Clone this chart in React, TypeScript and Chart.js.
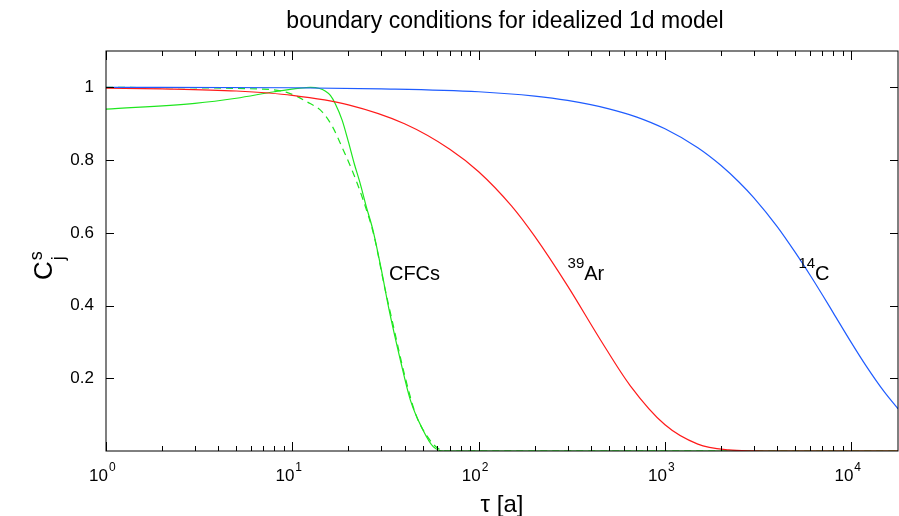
import Chart from "chart.js/auto"
import { useEffect, useRef } from "react"

// values (tau in years, concentration)
const c14Tau = [1, 10, 30, 100, 200, 300, 500, 700, 1000, 1500, 2000, 2500, 3000, 4000, 5000, 6000, 7000, 8000, 10000, 12000, 15000, 17800]
const c14Val = [1.0, 0.999, 0.996, 0.988, 0.976, 0.964, 0.941, 0.919, 0.886, 0.834, 0.785, 0.739, 0.696, 0.617, 0.546, 0.484, 0.429, 0.38, 0.298, 0.234, 0.163, 0.116]

const arTau = [1, 2, 5, 10, 20, 40, 70, 100, 150, 200, 300, 450, 650, 1000, 1500, 2200, 3000, 4000, 17800]
const arVal = [0.998, 0.996, 0.99, 0.978, 0.952, 0.9, 0.83, 0.768, 0.674, 0.59, 0.454, 0.306, 0.18, 0.072, 0.019, 0.003, 0.0005, 0, 0]

const cfcTau = [1, 3, 5, 8, 11, 12.5, 14, 15, 16, 17, 18.5, 20, 21.5, 23, 25, 27, 30, 33, 38, 43, 50, 57, 65, 17800]
const cfcVal = [0.94, 0.956, 0.97, 0.988, 0.998, 1.0, 0.997, 0.99, 0.978, 0.955, 0.91, 0.85, 0.79, 0.74, 0.67, 0.61, 0.5, 0.39, 0.25, 0.14, 0.06, 0.012, 0, 0]

const cfcDashTau = [1, 7, 9.5, 12, 14.5, 16.5, 18.5, 21, 24, 27.5, 31, 35, 40, 46, 53, 61, 70, 17800]
const cfcDashVal = [1.0, 0.995, 0.985, 0.96, 0.932, 0.89, 0.835, 0.77, 0.69, 0.59, 0.46, 0.34, 0.21, 0.1, 0.04, 0.006, 0, 0]

const yTicks = [0.2, 0.4, 0.6, 0.8, 1]
const xDecades = [0, 1, 2, 3, 4]

const curveLabels = [
	{ tau: 33, y: 0.47, sup: "", text: "CFCs" },
	{ tau: 300, y: 0.47, sup: "39", text: "Ar" },
	{ tau: 5200, y: 0.47, sup: "14", text: "C" },
]

const FONT = "'Liberation Sans', Arial, sans-serif"

const pts = (t: number[], v: number[]) => t.map((x, i) => ({ x, y: v[i] }))

const decorPlugin = {
	id: "decor",
	afterDraw(chart: any) {
		const { ctx, chartArea: a, scales } = chart
		const xs = scales.x
		const ys = scales.y
		ctx.save()
		ctx.strokeStyle = "#000"
		ctx.lineWidth = 1
		ctx.strokeRect(a.left, a.top, a.right - a.left, a.bottom - a.top)
		// x ticks (inward)
		ctx.beginPath()
		for (let d = 0; d <= 4; d++) {
			for (let m = 1; m <= 9; m++) {
				const v = m * Math.pow(10, d)
				if (v > xs.max) break
				const px = Math.round(xs.getPixelForValue(v)) + 0.5
				const len = m === 1 ? 9 : 5
				ctx.moveTo(px, a.bottom)
				ctx.lineTo(px, a.bottom - len)
				ctx.moveTo(px, a.top)
				ctx.lineTo(px, a.top + len)
			}
		}
		for (const t of yTicks) {
			const py = Math.round(ys.getPixelForValue(t)) + 0.5
			ctx.moveTo(a.left, py)
			ctx.lineTo(a.left + 8, py)
			ctx.moveTo(a.right, py)
			ctx.lineTo(a.right - 8, py)
		}
		ctx.stroke()
		ctx.fillStyle = "#000"
		// y tick labels
		ctx.font = `17px ${FONT}`
		ctx.textAlign = "right"
		ctx.textBaseline = "middle"
		for (const t of yTicks) ctx.fillText(String(t), a.left - 12, ys.getPixelForValue(t))
		// x tick labels 10^n
		for (const d of xDecades) {
			const px = xs.getPixelForValue(Math.pow(10, d))
			ctx.font = `17px ${FONT}`
			ctx.textAlign = "right"
			ctx.textBaseline = "alphabetic"
			ctx.fillText("10", px + 2, a.bottom + 30)
			ctx.font = `12px ${FONT}`
			ctx.textAlign = "left"
			ctx.fillText(String(d), px + 3, a.bottom + 20)
		}
		// curve labels
		for (const l of curveLabels) {
			const px = xs.getPixelForValue(l.tau)
			const py = ys.getPixelForValue(l.y)
			ctx.textAlign = "left"
			ctx.textBaseline = "alphabetic"
			let x = px
			if (l.sup) {
				ctx.font = `15px ${FONT}`
				ctx.fillText(l.sup, x, py - 12)
				x += ctx.measureText(l.sup).width
			}
			ctx.font = `20px ${FONT}`
			ctx.fillText(l.text, x, py)
		}
		// title
		ctx.font = `23px ${FONT}`
		ctx.textAlign = "center"
		ctx.fillText("boundary conditions for idealized 1d model", 505, 28)
		// x axis title
		ctx.font = `24px ${FONT}`
		ctx.fillText("τ [a]", (a.left + a.right) / 2, 512)
		// y axis title C^s_j
		ctx.translate(52, 262)
		ctx.rotate(-Math.PI / 2)
		ctx.textAlign = "left"
		ctx.font = `26px ${FONT}`
		ctx.fillText("C", -18, 0)
		const cw = ctx.measureText("C").width
		ctx.font = `18px ${FONT}`
		ctx.fillText("s", -18 + cw + 1, -10)
		ctx.fillText("j", -18 + cw + 1, 12)
		ctx.restore()
	},
}

export default function App() {
	const chartRef = useRef<HTMLCanvasElement>(null)
	const chartInstance = useRef<Chart | null>(null)

	useEffect(() => {
		document.body.style.margin = "0"
		if (!chartRef.current) return
		if (chartInstance.current) chartInstance.current.destroy()
		const line = (data: any, color: string, dash: number[] = []) => ({
			data,
			borderColor: color,
			borderWidth: 1.2,
			borderDash: dash,
			pointRadius: 0,
			fill: false,
			cubicInterpolationMode: "monotone" as const,
		})
		chartInstance.current = new Chart(chartRef.current, {
			type: "line",
			data: {
				datasets: [
					line(pts(c14Tau, c14Val), "#1f5cff"),
					line(pts(arTau, arVal), "#ff1a1a"),
					line(pts(cfcTau, cfcVal), "#1ee61e"),
					line(pts(cfcDashTau, cfcDashVal), "#1ee61e", [7, 5]),
				],
			},
			options: {
				responsive: false,
				animation: false,
				layout: { padding: { top: 51, bottom: 57, left: 98, right: 1 } },
				plugins: { legend: { display: false }, tooltip: { enabled: false } },
				scales: {
					x: {
						type: "logarithmic",
						min: 1,
						max: 17800,
						grid: { display: false },
						border: { display: false },
						ticks: { display: false },
					},
					y: {
						min: 0,
						max: 1.1,
						grid: { display: false },
						border: { display: false },
						ticks: { display: false },
					},
				},
			},
			plugins: [decorPlugin],
		})
		return () => {
			if (chartInstance.current) chartInstance.current.destroy()
		}
	}, [])

	return <canvas ref={chartRef} width={899} height={516}></canvas>
}
